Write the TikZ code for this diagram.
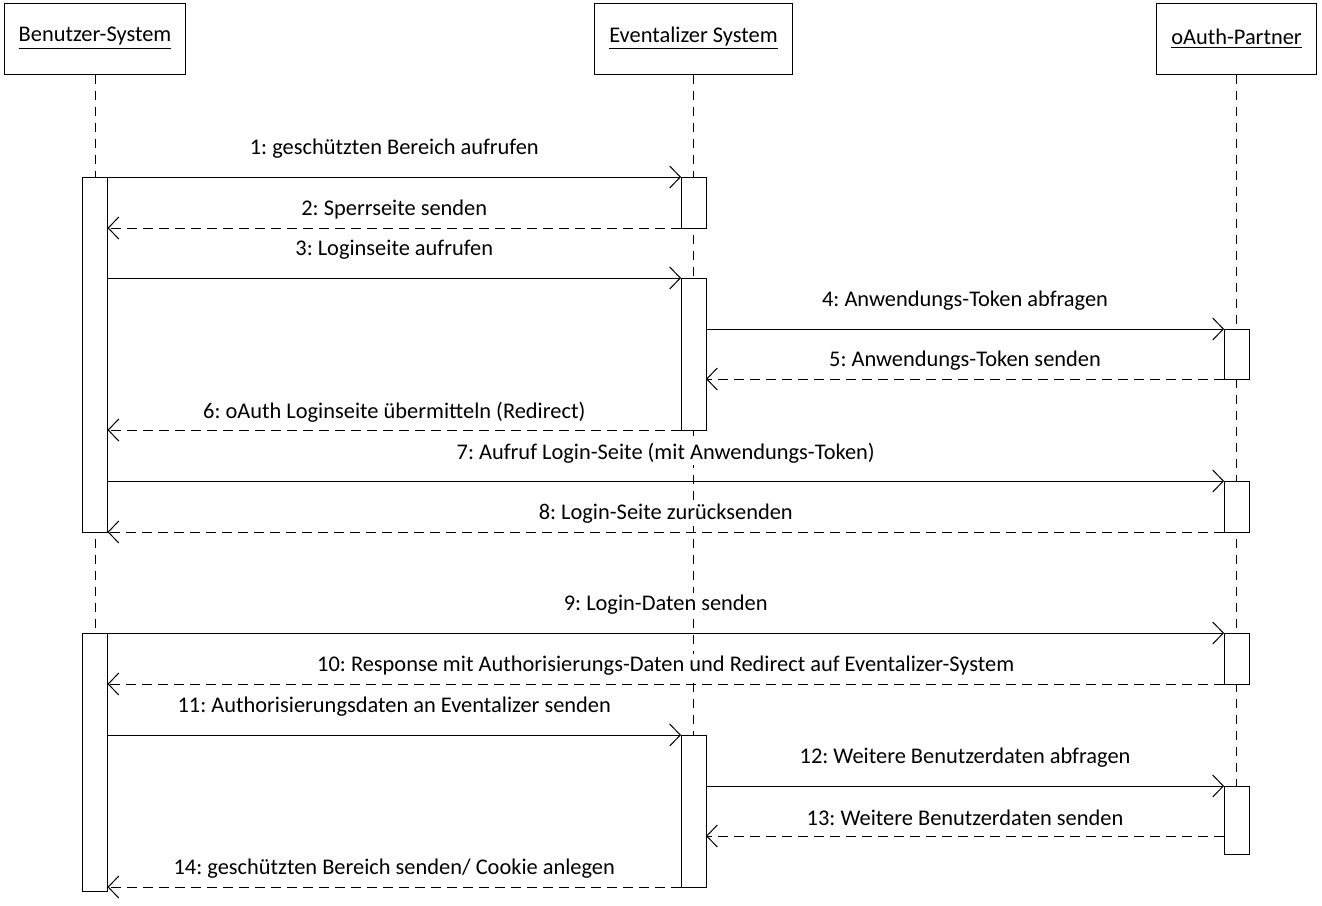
\documentclass[tikz,border=0pt]{standalone}
\usepackage{fontspec}
\setmainfont{Carlito}
\frenchspacing
\usepackage{tikz}
\usetikzlibrary{calc, positioning}
\usetikzlibrary{arrows.meta}
\def\lw{0.5pt}
\def\actwidth{12.5pt}
\tikzset{
    head/.style = {
        draw, rectangle, minimum height=35.5pt, inner xsep=7.25pt, line width=\lw
    },
    actbox/.style = {
        draw, rectangle, fill=white, minimum width=\actwidth, anchor=north,
        inner sep=0pt, outer sep=0pt, line width=\lw
    },
    lifeline/.style = {line width=\lw, dash pattern=on 4.5pt off 3.5pt},
    call/.style = {line width=\lw, -{Straight Barb[length=5.3pt, width=11pt]}},
    reply/.style = {call, dash pattern=on 5pt off 3pt},
    calllabel/.style = {midway, fill=white, inner sep=1pt, yshift=14pt},
    replylabel/.style = {midway, fill=white, inner sep=1pt, yshift=9pt}
    }

\begin{document}
\begin{tikzpicture}[x=0.5pt, y=-0.5pt, every node/.style={font={\fontsize{11.2}{13.4}\selectfont}}]
        \useasboundingbox (0,0) rectangle (1322,905);
        % Place the heads
        \node[head] (user) at (95,38.5) {\underline{Benutzer-System}};
        \node[head] (eventalizer) at (693.5,38.5) {\underline{Eventalizer System}};
        \node[head] (oauth) at (1236.5,38.5) {\underline{oAuth-Partner}};
        % Lifelines
        \draw[lifeline] (user.south) -- ++(0,559);
        \draw[lifeline] (eventalizer.south) -- ++(0,661);
        \draw[lifeline] (oauth.south) -- ++(0,712);
        % Activation boxes
        \foreach \act/\x/\ya/\yb in {b1/95/177/532, b2/95/633/891,
            e1/693.5/177/228, e2/693.5/278/430, e3/693.5/735/887,
            o1/1236.5/329/379, o2/1236.5/481/532, o3/1236.5/633/684, o4/1236.5/786/854}{
            \node[actbox, minimum height={(\yb-\ya)*0.5pt}] (\act) at (\x,\ya) {};
        }
        % Messages
        \foreach \y/\src/\dst/\sty/\txt in {
            177/b1.east/e1.west/call/{1: geschützten Bereich aufrufen},
            228/e1.west/b1.east/reply/{2: Sperrseite senden},
            278/b1.east/e2.west/call/{3: Loginseite aufrufen},
            329/e2.east/o1.west/call/{4: Anwendungs-Token abfragen},
            379/o1.west/e2.east/reply/{5: Anwendungs-Token senden},
            430/e2.west/b1.east/reply/{6: oAuth Loginseite übermitteln (Redirect)},
            481/b1.east/o2.west/call/{7: Aufruf Login-Seite (mit Anwendungs-Token)},
            532/o2.west/b1.east/reply/{8: Login-Seite zurücksenden},
            633/b2.east/o3.west/call/{9: Login-Daten senden},
            684/o3.west/b2.east/reply/{10: Response mit Authorisierungs-Daten und Redirect auf Eventalizer-System},
            735/b2.east/e3.west/call/{11: Authorisierungsdaten an Eventalizer senden},
            786/e3.east/o4.west/call/{12: Weitere Benutzerdaten abfragen},
            836/o4.west/e3.east/reply/{13: Weitere Benutzerdaten senden},
            887/e3.west/b2.east/reply/{14: geschützten Bereich senden/ Cookie anlegen}}{
            \draw[\sty] (\src |- 0,\y) -- (\dst |- 0,\y) node[\sty label] {\txt};
        }
    \end{tikzpicture}
\end{document}
